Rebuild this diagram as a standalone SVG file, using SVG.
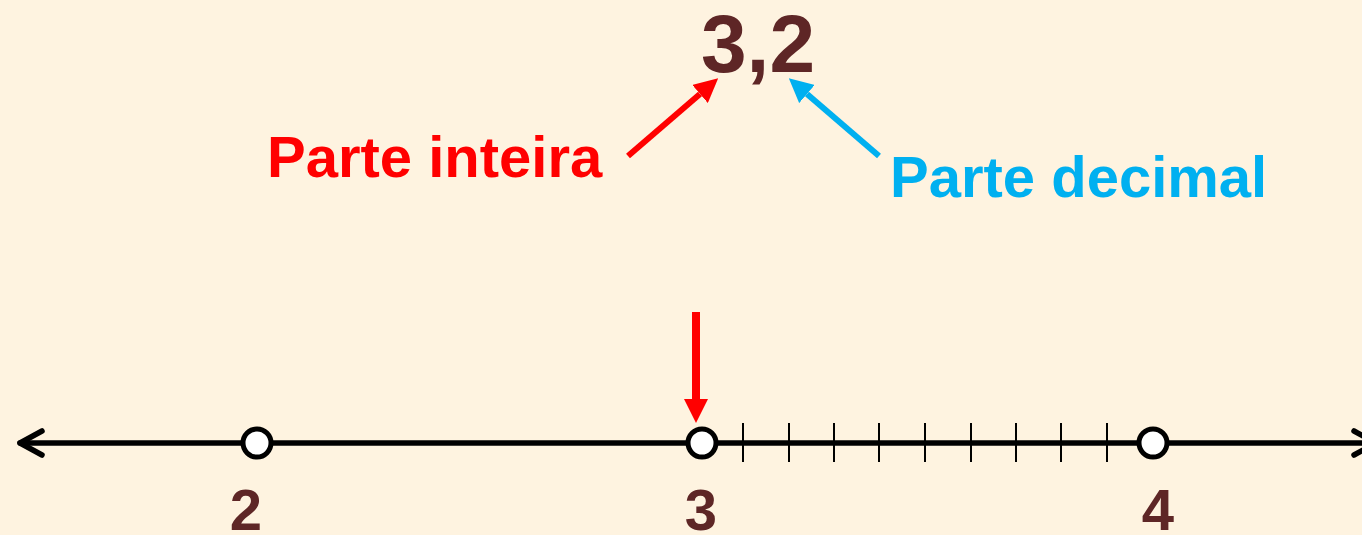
<svg xmlns="http://www.w3.org/2000/svg" width="1362" height="535" viewBox="0 0 1362 535">
  <style>
    .num { font-family: "Liberation Sans", Arial, sans-serif; font-weight: bold; fill: #5E2626; text-anchor: middle; }
    .lbl { font-family: "Liberation Sans", Arial, sans-serif; font-weight: bold; font-size: 58px; }
    .pt { fill: #FFFFFF; stroke: #000000; stroke-width: 5; }
    .tick { stroke: #000000; stroke-width: 2; }
    .axis { stroke: #000000; stroke-width: 5.5; fill: none; stroke-linecap: round; stroke-linejoin: round; }
  </style>
  <defs>
    <marker id="headRed" markerUnits="userSpaceOnUse" markerWidth="24" markerHeight="24" refX="0" refY="12" orient="auto">
      <path d="M0,0 L24,12 L0,24 Z" fill="#FF0000"/>
    </marker>
    <marker id="headBlue" markerUnits="userSpaceOnUse" markerWidth="24" markerHeight="24" refX="0" refY="12" orient="auto">
      <path d="M0,0 L24,12 L0,24 Z" fill="#00B0F0"/>
    </marker>
  </defs>
  <rect x="0" y="0" width="1362" height="535" fill="#FEF3E0"/>

  <g id="number-line">
    <line class="axis" x1="20" y1="443" x2="1376" y2="443"/>
    <polyline class="axis" points="42,431 20,443 42,455"/>
    <polyline class="axis" points="1354,431 1376,443 1354,455"/>
    <g id="ticks">
      <line class="tick" x1="743" y1="423" x2="743" y2="462"/>
      <line class="tick" x1="789" y1="423" x2="789" y2="462"/>
      <line class="tick" x1="834" y1="423" x2="834" y2="462"/>
      <line class="tick" x1="879" y1="423" x2="879" y2="462"/>
      <line class="tick" x1="925" y1="423" x2="925" y2="462"/>
      <line class="tick" x1="971" y1="423" x2="971" y2="462"/>
      <line class="tick" x1="1016" y1="423" x2="1016" y2="462"/>
      <line class="tick" x1="1061" y1="423" x2="1061" y2="462"/>
      <line class="tick" x1="1107" y1="423" x2="1107" y2="462"/>
    </g>
  </g>

  <g id="point-2">
    <circle class="pt" cx="257" cy="443" r="14"/>
    <text class="num" x="246" y="530" font-size="58">2</text>
  </g>
  <g id="point-3">
    <circle class="pt" cx="702" cy="443" r="14"/>
    <text class="num" x="701" y="530" font-size="58">3</text>
  </g>
  <g id="point-4">
    <circle class="pt" cx="1153" cy="443" r="14"/>
    <text class="num" x="1158" y="530" font-size="58">4</text>
  </g>

  <g id="title">
    <text class="num" x="758" y="72" font-size="82">3,2</text>
  </g>
  <g id="label-inteira">
    <text class="lbl" x="267" y="177" fill="#FF0000">Parte inteira</text>
  </g>
  <g id="label-decimal">
    <text class="lbl" x="890" y="197" fill="#00B0F0">Parte decimal</text>
  </g>

  <g id="connectors">
    <line x1="628" y1="156" x2="700" y2="94" stroke="#FF0000" stroke-width="6" marker-end="url(#headRed)"/>
    <line x1="879" y1="156" x2="807" y2="94" stroke="#00B0F0" stroke-width="6" marker-end="url(#headBlue)"/>
    <line x1="696" y1="312" x2="696" y2="399" stroke="#FF0000" stroke-width="8" marker-end="url(#headRed)"/>
  </g>
</svg>
